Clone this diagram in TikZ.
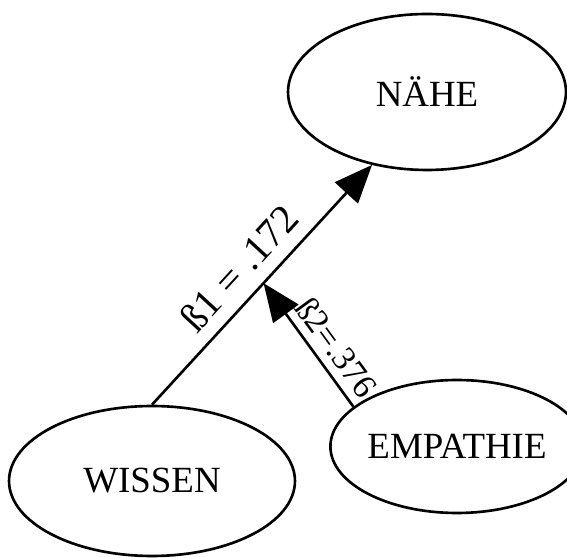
\documentclass[tikz,border=0pt]{standalone}
\usepackage{fontspec}
\setmainfont{Liberation Serif}
\usetikzlibrary{arrows.meta,shapes.geometric}
\begin{document}
\begin{tikzpicture}[x=0.02cm,y=0.02cm,
		construct/.style={draw,ellipse,line width=1.5pt,inner sep=0pt,font=\fontsize{21}{25}\selectfont},
		effect/.style={line width=1.5pt,-{Triangle[length=0.76cm,width=0.62cm]}},
		weight/.style={sloped,inner sep=0pt,font=\fontsize{19.5}{23}\selectfont}]
	\useasboundingbox (0,0) rectangle (567,557);
	\node[construct,minimum width=5.56cm,minimum height=3.12cm] (naehe) at (427,465) {NÄHE};
	\node[construct,minimum width=5.72cm,minimum height=3cm] (wissen) at (152,76) {WISSEN};
	\node[construct,minimum width=4.4cm,minimum height=2.66cm] (empathie) at (457,110.5) {EMPATHIE};
	\draw[effect] (wissen.north) -- coordinate[pos=0.507] (join)
		node[weight,pos=0.49,above=0.25cm,font=\fontsize{23}{27}\selectfont] {ß1 = .172} (naehe.233);
	\draw[effect] (empathie.159) -- node[weight,pos=0.38,above=0.16cm] {ß2=.376} (join);
\end{tikzpicture}
\end{document}
